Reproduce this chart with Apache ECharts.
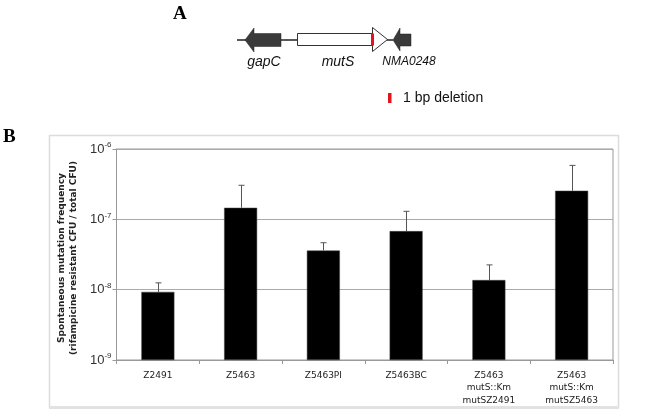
<!DOCTYPE html>
<html>
<head>
<meta charset="utf-8">
<script src="https://cdn.jsdelivr.net/npm/echarts@6/dist/echarts.min.js"></script>
<style>html,body{margin:0;padding:0;background:#fff}#c{width:653px;height:412px}</style>
</head>
<body>
<div id="c"></div>
<script>
var categories = ['Z2491', 'Z5463', 'Z5463PI', 'Z5463BC', 'Z5463\nmutS::Km\nmutSZ2491', 'Z5463\nmutS::Km\nmutSZ5463'];
var frequencies = [9.3e-9, 1.46e-7, 3.6e-8, 6.8e-8, 1.37e-8, 2.55e-7];
var upperErrors = [1.25e-8, 3.05e-7, 4.65e-8, 1.3e-7, 2.25e-8, 5.85e-7];
var yTicks = [1e-9, 1e-8, 1e-7, 1e-6];
var yTitle = ['Spontaneous mutation frequency', '(rifampicine resistant CFU / total CFU)'];

var chart = echarts.init(document.getElementById('c'), null, {renderer: 'canvas'});

var errData = frequencies.map(function (v, i) { return [i, v, upperErrors[i]]; });

var dark = '#3a3a3a';
var option = {
  animation: false,
  backgroundColor: '#fff',
  grid: {left: 116.5, right: 40, top: 149, bottom: 52, show: true, borderColor: '#999', borderWidth: 1, backgroundColor: 'transparent'},
  xAxis: {
    type: 'category',
    data: categories,
    axisLine: {lineStyle: {color: '#999', width: 1}},
    axisTick: {show: true, length: 4, lineStyle: {color: '#999'}},
    axisLabel: {fontFamily: 'DejaVu Sans', fontSize: 9, color: '#222', lineHeight: 12.7, margin: 9, interval: 0}
  },
  yAxis: {
    type: 'log',
    logBase: 10,
    min: yTicks[0],
    max: yTicks[yTicks.length - 1],
    startValue: yTicks[0],
    axisLine: {show: true, lineStyle: {color: '#999'}},
    axisTick: {show: true, length: 4, lineStyle: {color: '#999'}},
    splitLine: {lineStyle: {color: '#aaa', width: 1}},
    axisLabel: {
      margin: 5,
      formatter: function (v) { return '{b|10}{s|' + Math.round(Math.log10(v)) + '}'; },
      rich: {
        b: {fontFamily: 'Liberation Sans', fontSize: 13, color: '#333'},
        s: {fontFamily: 'Liberation Sans', fontSize: 8, color: '#333', verticalAlign: 'top', padding: [0, 0, 8, 0]}
      }
    }
  },
  graphic: [
    {type: 'rect', shape: {x: 49.5, y: 135.5, width: 569, height: 272}, style: {fill: 'none', stroke: '#dcdcdc', lineWidth: 1.5}, z: -10},
    {type: 'rect', shape: {x: 49, y: 406, width: 570, height: 3}, style: {fill: '#e2e2e2'}, z: -10},
    {type: 'text', x: 3, y: 128, style: {text: 'B', font: 'bold 19px "Liberation Serif"', fill: '#000'}},
    {type: 'text', x: 173, y: 5, style: {text: 'A', font: 'bold 19px "Liberation Serif"', fill: '#000'}},
    {type: 'text', x: 68, y: 258, rotation: Math.PI / 2, style: {text: yTitle.join('\n'), font: 'bold 9px "DejaVu Sans"', fill: '#222', align: 'center', verticalAlign: 'middle', lineHeight: 12}},
    // gene map
    {type: 'line', shape: {x1: 237, y1: 40, x2: 297, y2: 40}, style: {stroke: '#222', lineWidth: 1.5}},
    {type: 'polygon', shape: {points: [[245, 40], [254, 28], [254, 33.5], [281, 33.5], [281, 46.5], [254, 46.5], [254, 52]]}, style: {fill: '#3a3a3a', stroke: '#222', lineWidth: 0.5}},
    {type: 'rect', shape: {x: 297.5, y: 33.5, width: 75, height: 12}, style: {fill: '#fff', stroke: '#333', lineWidth: 1}},
    {type: 'polygon', shape: {points: [[372.5, 27.5], [387.5, 39.5], [372.5, 51.5]]}, style: {fill: '#fff', stroke: '#333', lineWidth: 1}},
    {type: 'rect', shape: {x: 371, y: 33.5, width: 3, height: 12}, style: {fill: '#e3141b'}},
    {type: 'line', shape: {x1: 387, y1: 40, x2: 393, y2: 40}, style: {stroke: '#222', lineWidth: 1.5}},
    {type: 'polygon', shape: {points: [[393, 40], [400, 28], [400, 34], [411, 34], [411, 46], [400, 46], [400, 51]]}, style: {fill: '#3a3a3a', stroke: '#222', lineWidth: 0.5}},
    {type: 'text', x: 264, y: 62, style: {text: 'gapC', font: 'italic 14px "Liberation Sans"', fill: '#111', align: 'center', verticalAlign: 'middle'}},
    {type: 'text', x: 338, y: 62, style: {text: 'mutS', font: 'italic 14px "Liberation Sans"', fill: '#111', align: 'center', verticalAlign: 'middle'}},
    {type: 'text', x: 409, y: 62, style: {text: 'NMA0248', font: 'italic 12px "Liberation Sans"', fill: '#111', align: 'center', verticalAlign: 'middle'}},
    {type: 'rect', shape: {x: 388, y: 93, width: 3.5, height: 10}, style: {fill: '#e3141b'}},
    {type: 'text', x: 403, y: 98.5, style: {text: '1 bp deletion', font: '14px "Liberation Sans"', fill: '#111', align: 'left', verticalAlign: 'middle'}}
  ],
  series: [
    {
      type: 'bar',
      data: frequencies,
      barWidth: 33,
      itemStyle: {color: '#000', borderColor: '#444', borderWidth: 0.5},
      z: 2
    },
    {
      type: 'custom',
      data: errData,
      z: 3,
      renderItem: function (params, api) {
        var base = api.coord([api.value(0), api.value(1)]);
        var top = api.coord([api.value(0), api.value(2)]);
        var x = Math.round(base[0]) + 0.5;
        return {
          type: 'group',
          children: [
            {type: 'line', shape: {x1: x, y1: base[1], x2: x, y2: top[1]}, style: {stroke: '#555', lineWidth: 1}},
            {type: 'line', shape: {x1: x - 3, y1: top[1], x2: x + 3, y2: top[1]}, style: {stroke: '#555', lineWidth: 1}}
          ]
        };
      }
    }
  ]
};
chart.setOption(option);
</script>
</body>
</html>
